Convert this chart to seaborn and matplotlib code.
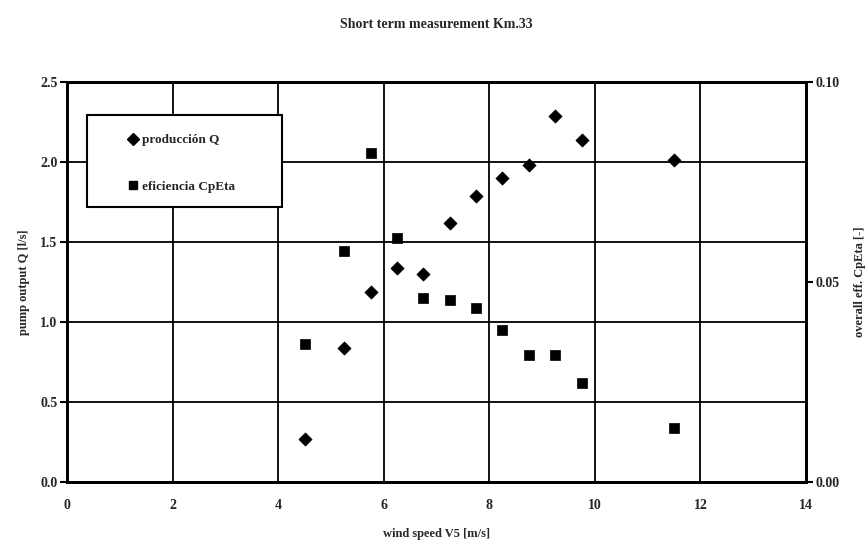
import matplotlib
matplotlib.use("Agg")
import matplotlib.pyplot as plt
import seaborn as sns
import pandas as pd
from matplotlib.patches import Rectangle
from matplotlib.lines import Line2D

# data
wind_q = [4.5, 5.25, 5.75, 6.25, 6.75, 7.25, 7.75, 8.25, 8.75, 9.25, 9.75, 11.5]
q_vals = [0.27, 0.84, 1.19, 1.34, 1.30, 1.62, 1.79, 1.90, 1.98, 2.29, 2.14, 2.01]
wind_c = [4.5, 5.25, 5.75, 6.25, 6.75, 7.25, 7.75, 8.25, 8.75, 9.25, 9.75, 11.5]
cp_vals = [0.0345, 0.0578, 0.0823, 0.061, 0.046, 0.0455, 0.0435, 0.038, 0.0318, 0.0318, 0.0248, 0.0135]
x_ticks = [0, 2, 4, 6, 8, 10, 12, 14]
yl_ticks = [0.0, 0.5, 1.0, 1.5, 2.0, 2.5]
yr_ticks = [0.00, 0.05, 0.10]

sns.set_style("white")
plt.rcParams['font.family'] = ['Liberation Serif', 'DejaVu Serif']
plt.rcParams['font.weight'] = 'bold'

fig = plt.figure(figsize=(8.68, 5.43), dpi=100)
ax = fig.add_axes([67/868, 1-482/543, (806-67)/868, 400/543])
ax2 = ax.twinx()

dq = pd.DataFrame({"x": wind_q, "y": q_vals})
dc = pd.DataFrame({"x": wind_c, "y": cp_vals})
sns.scatterplot(data=dq, x="x", y="y", ax=ax, marker="D", s=45, color="black",
                edgecolor="black", linewidth=0.5, zorder=5)
sns.scatterplot(data=dc, x="x", y="y", ax=ax2, marker="s", s=48, color="black",
                edgecolor="black", linewidth=0.5, zorder=5)

ax.set_xlim(0, 14)
ax.set_ylim(0, 2.5)
ax2.set_ylim(0, 0.10)
ax.set_xticks(x_ticks)
ax.set_xticklabels([str(t) for t in x_ticks])
ax.set_yticks(yl_ticks)
ax.set_yticklabels([f"{t:.1f}" for t in yl_ticks])
ax2.set_yticks(yr_ticks)
ax2.set_yticklabels([f"{t:.2f}" for t in yr_ticks])

ax.grid(True, color="black", linewidth=1.3)
ax2.grid(False)
for a in (ax, ax2):
    for s in a.spines.values():
        s.set_color("black")
        s.set_linewidth(2)
ax.tick_params(axis='x', length=0, pad=12, labelsize=10)
ax.tick_params(axis='y', direction='out', length=5, width=1.5, color='black', labelsize=10, pad=2)
ax2.tick_params(axis='y', direction='out', length=5, width=1.5, color='black', labelsize=10, pad=2)

ax.set_xlabel("wind speed V5 [m/s]", fontsize=9, fontweight='bold', labelpad=12)
ax.set_ylabel("pump output Q [l/s]", fontsize=9, fontweight='bold', labelpad=7)
ax2.set_ylabel("overall eff. CpEta [-]", fontsize=9, fontweight='bold', labelpad=10)
ax.set_title("Short term measurement Km.33", fontsize=10, fontweight='bold', pad=39)

# legend box
x0 = (87-67)/739; y0 = (482-207)/400
w = (282-87)/739; h = (207-115)/400
ax2.add_patch(Rectangle((x0, y0), w, h, transform=ax2.transAxes, facecolor='white',
                        edgecolor='black', linewidth=1.5, zorder=8))
handles = [Line2D([], [], marker='D', color='black', linestyle='none', markersize=6),
           Line2D([], [], marker='s', color='black', linestyle='none', markersize=6)]
leg = ax2.legend(handles, ["producción Q", "eficiencia CpEta"], loc='center',
                 bbox_to_anchor=(x0 + w/2 - 4/739, y0 + h/2 - 2.5/400), frameon=False, fontsize=9.5,
                 labelspacing=2.6, handletextpad=0.2, handlelength=1.0)
leg.set_zorder(10)
for t in leg.get_texts():
    t.set_fontweight('bold')

fig.savefig("out.png", dpi=100)
